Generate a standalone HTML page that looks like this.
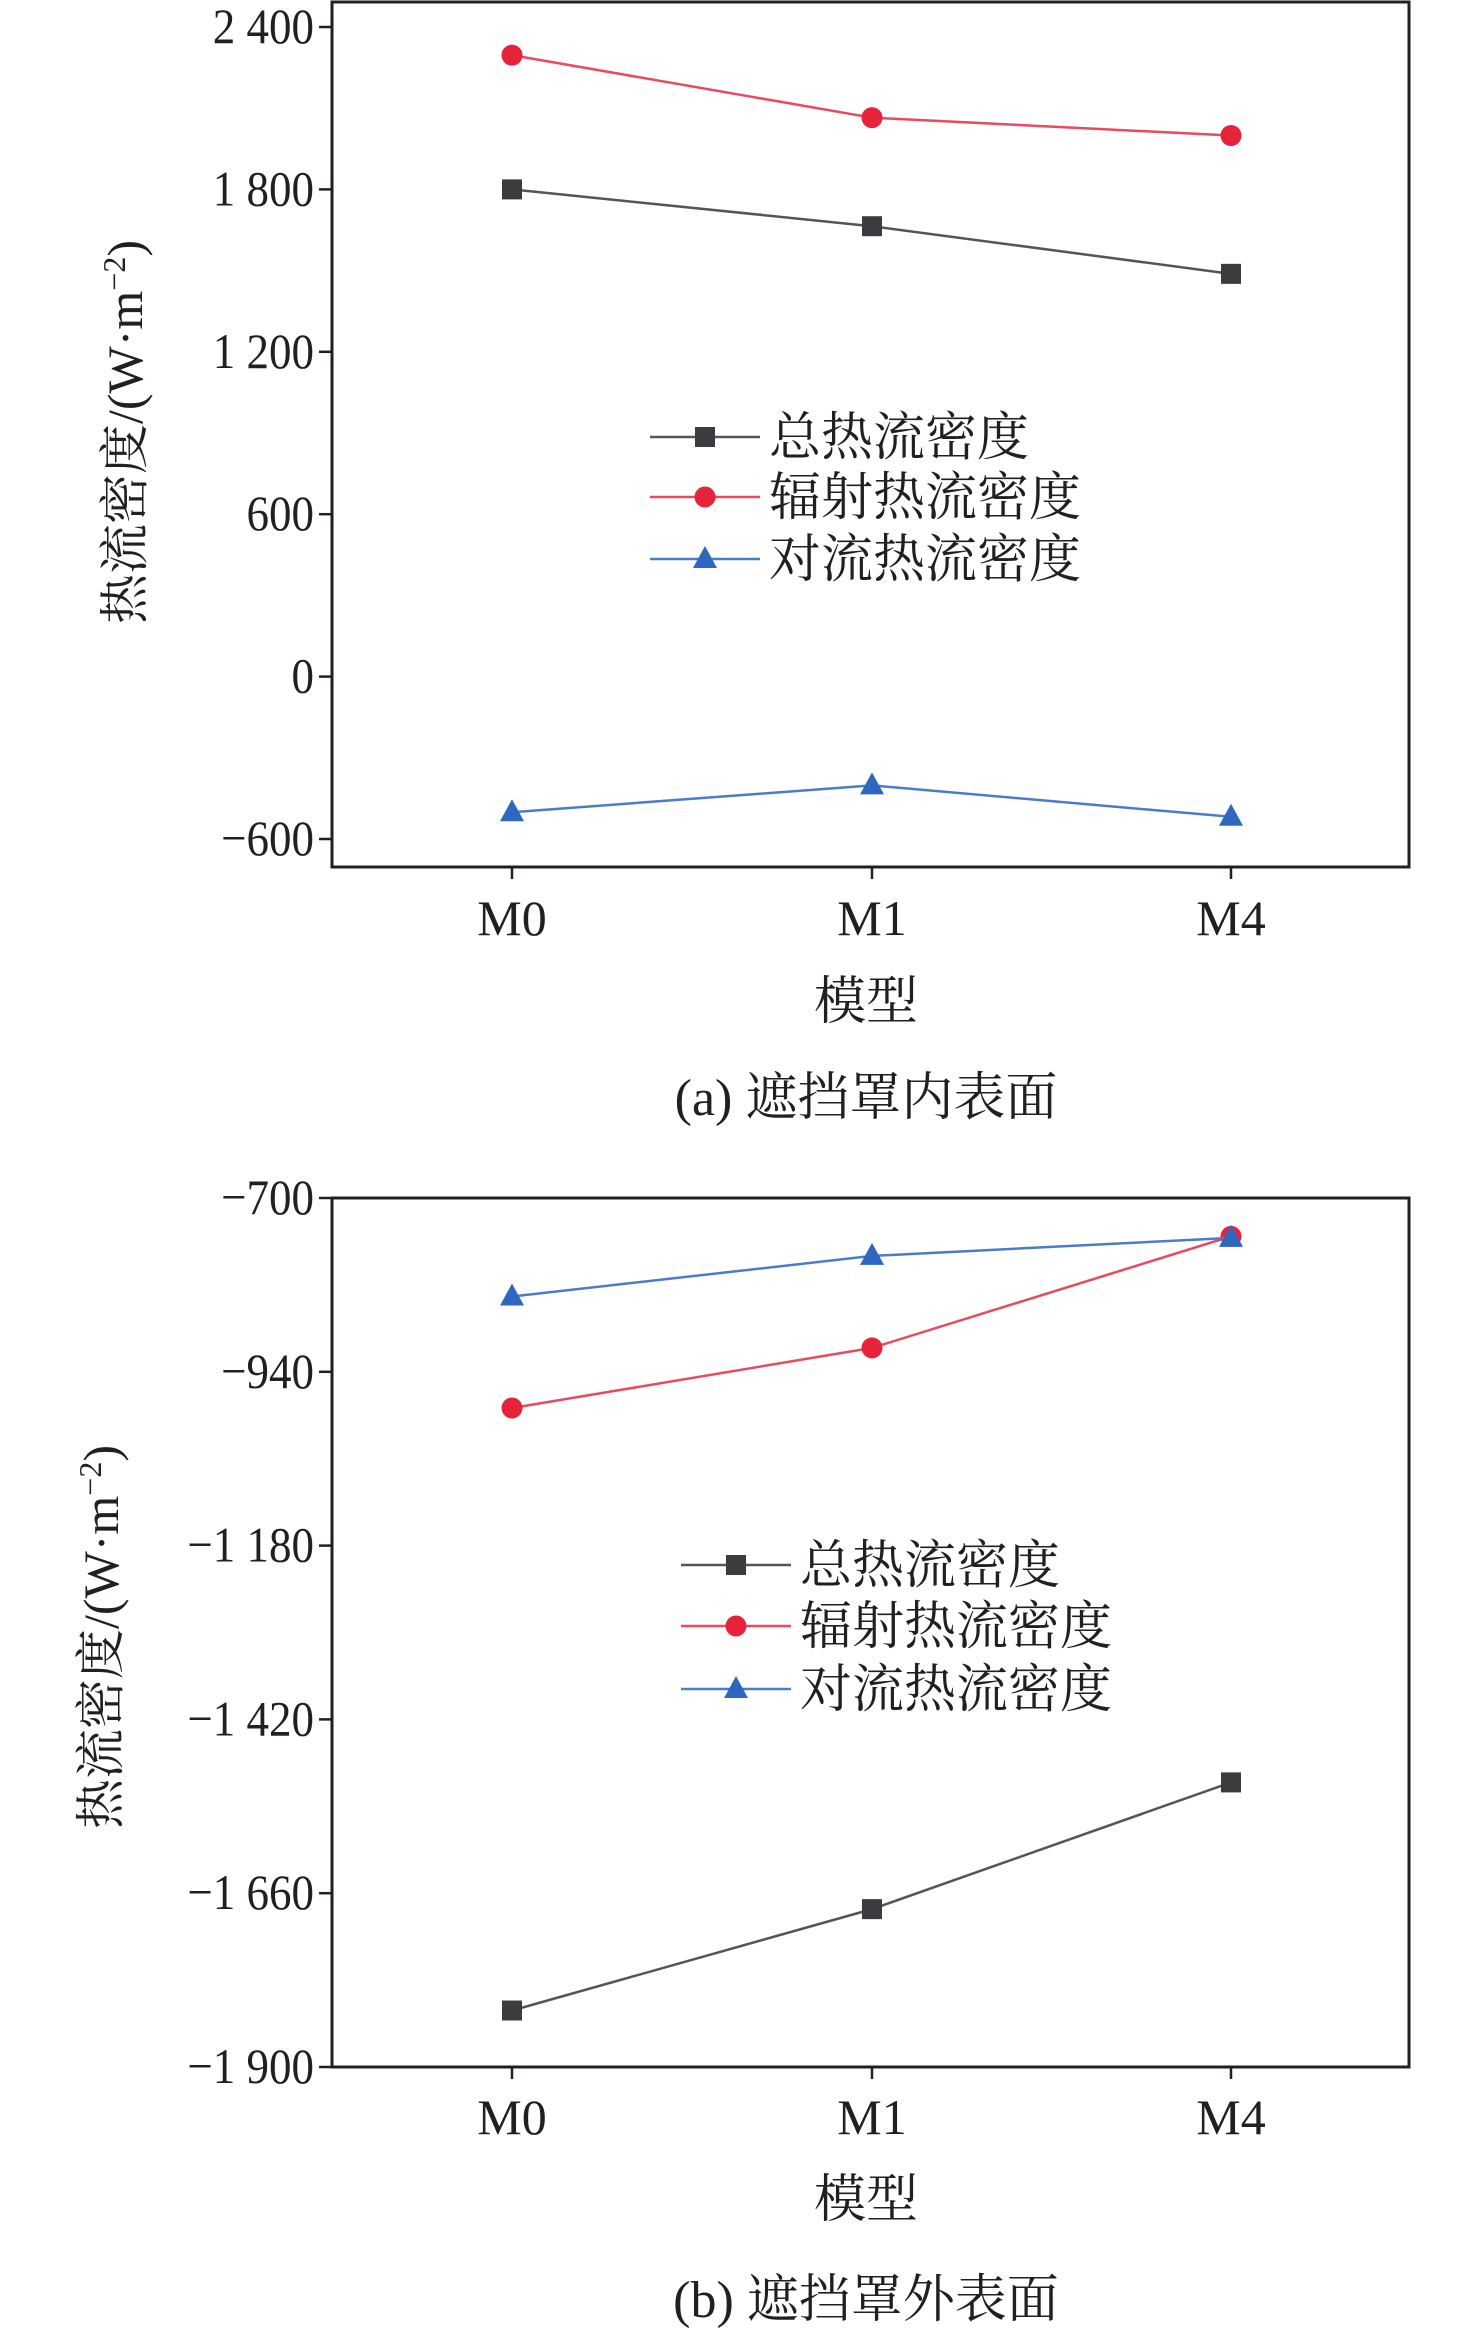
<!DOCTYPE html>
<html><head><meta charset="utf-8">
<style>
html,body{margin:0;padding:0;background:#fff;}
svg{display:block;}
text{font-family:"Liberation Serif","Noto Serif CJK SC",serif;fill:#231f20;}
</style></head>
<body>
<svg id="chart" width="1476" height="2346" viewBox="0 0 1476 2346" xmlns="http://www.w3.org/2000/svg"></svg>
<script>
const categories = ["M0","M1","M4"];
const seriesNames = ["总热流密度","辐射热流密度","对流热流密度"];
const aTotal = [1800, 1664, 1488];
const aRadiation = [2296, 2065, 1999];
const aConvection = [-501, -402, -518];
const aTicks = [2400, 1800, 1200, 600, 0, -600];
const aTickLabels = ["2 400","1 800","1 200","600","0","\u2212600"];
const bTotal = [-1822, -1682, -1507];
const bRadiation = [-990, -907, -753];
const bConvection = [-836, -780, -755];
const bTicks = [-700, -940, -1180, -1420, -1660, -1900];
const bTickLabels = ["\u2212700","\u2212940","\u22121 180","\u22121 420","\u22121 660","\u22121 900"];

const svg = document.getElementById('chart');
const NS = "http://www.w3.org/2000/svg";
function mk(tag, attrs, parent){const e=document.createElementNS(NS,tag);for(const k in attrs)e.setAttribute(k,attrs[k]);(parent||svg).appendChild(e);return e;}
const colors = ["#3b3b40","#e5233b","#2f67c0"];
const lineColors = ["#555559","#e84a5f","#4a7ccc"];

function drawPanel(cfg){
  const g = mk('g',{});
  
  
  const L=332,R=1409,T=cfg.top,B=cfg.bottom;
  const y = v => cfg.y0px + (cfg.v0 - v)*(cfg.y1px-cfg.y0px)/(cfg.v0-cfg.v1);
  const xs = [512, 872, 1231];
  const x = i => xs[i];
  const box = mk('rect',{x:L,y:T,width:R-L,height:B-T,fill:'none',stroke:'#231f20','stroke-width':3},g);
  
  
  cfg.ticks.forEach((t,i)=>{
    const ty=y(t);
    const tk = mk('line',{x1:L-13,x2:L,y1:ty,y2:ty,stroke:'#231f20','stroke-width':2.5},g);
    
    
    const lb = mk('text',{x:0,y:0,'text-anchor':'end','font-size':50,transform:`translate(314,${ty+16}) scale(0.9,1)`},g);
    lb.textContent = cfg.tickLabels[i];
    
    
  });
  categories.forEach((c,i)=>{
    const tk = mk('line',{x1:x(i),x2:x(i),y1:B,y2:B+12,stroke:'#231f20','stroke-width':2.5},g);
    
    
    const lb = mk('text',{x:x(i),y:cfg.xLabelY,'text-anchor':'middle','font-size':50},g);
    lb.textContent = c;
    
    
  });
  cfg.series.forEach((vals,s)=>{
    const pts = vals.map((v,i)=>x(i)+','+y(v)).join(' ');
    const pl = mk('polyline',{points:pts,fill:'none',stroke:lineColors[s],'stroke-width':2.5},g);
    
    
    vals.forEach((v,i)=>{
      const m = marker(s, x(i), y(v), g);
      
      
    });
  });
  cfg.legendY.forEach((ly,s)=>{
    const ln = mk('line',{x1:cfg.legX,x2:cfg.legX+110,y1:ly,y2:ly,stroke:lineColors[s],'stroke-width':2.5},g);
    
    
    const m = marker(s, cfg.legX+55, ly, g);
    
    
    const t = mk('text',{x:cfg.legX+119,y:ly+18,'font-size':52},g);
    t.textContent = seriesNames[s];
    
    
  });
  const yt = mk('text',{x:0,y:0,'text-anchor':'middle','font-size':50,transform:`translate(${cfg.yTitleX},${cfg.yTitleY}) rotate(-90)`},g);
  yt.innerHTML = '热流密度/(W·m<tspan dy="-17" font-size="32">\u22122</tspan><tspan dy="17">)</tspan>';
  
  
  const xt = mk('text',{x:866,y:cfg.xTitleY,'text-anchor':'middle','font-size':52},g);
  xt.textContent='模型';
  
  
  const cap = mk('text',{x:866,y:cfg.capY,'text-anchor':'middle','font-size':52},g);
  cap.textContent=cfg.caption;
  
  
}
function marker(s,cx,cy,g){
  if(s===0) return mk('rect',{x:cx-10,y:cy-10,width:20,height:20,fill:colors[0]},g);
  if(s===1) return mk('circle',{cx:cx,cy:cy,r:10.5,fill:colors[1]},g);
  return mk('polygon',{points:`${cx},${cy-13} ${cx-12},${cy+9} ${cx+12},${cy+9}`,fill:colors[2]},g);
}
drawPanel({name:'panel-a-inner-surface',top:2,bottom:867,v0:2400,v1:-600,y0px:27,y1px:839,
  ticks:aTicks,tickLabels:aTickLabels,series:[aTotal,aRadiation,aConvection],
  xLabelY:935,xTitleY:1019,capY:1115,legX:650,legendY:[437,497,559],
  yTitleX:142,yTitleY:432,caption:'(a) 遮挡罩内表面'});
drawPanel({name:'panel-b-outer-surface',top:1198,bottom:2067,v0:-700,v1:-1900,y0px:1198,y1px:2067,
  ticks:bTicks,tickLabels:bTickLabels,series:[bTotal,bRadiation,bConvection],
  xLabelY:2134,xTitleY:2217,capY:2317,legX:681,legendY:[1565,1626,1689],
  yTitleX:118,yTitleY:1637,caption:'(b) 遮挡罩外表面'});
</script>
</body></html>
